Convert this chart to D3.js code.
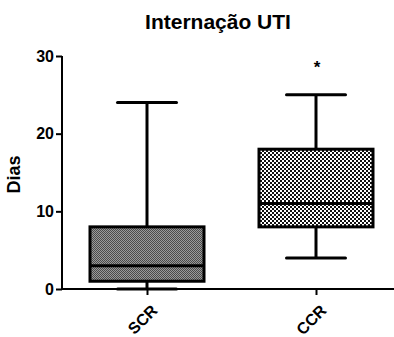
<!DOCTYPE html>
<html><head><meta charset="utf-8">
<script src="https://cdn.jsdelivr.net/npm/d3@7"></script>
<style>body{margin:0;background:#fff}svg{display:block}text{font-family:"Liberation Sans",Arial,sans-serif;font-weight:bold}</style>
</head><body><div id="c"></div>
<script>
const categories = ["SCR", "CCR"];
const whiskerLow = [0, 4];
const q1 = [1, 8];
const median = [3, 11];
const q3 = [8, 18];
const whiskerHigh = [24, 25];
const significance = ["", "*"];
const yTicks = [0, 10, 20, 30];
const title = "Internação UTI";
const yLabel = "Dias";

const W = 394, H = 337;
const svg = d3.select("#c").append("svg").attr("width", W).attr("height", H);
const defs = svg.append("defs");
const p1 = defs.append("pattern").attr("id","pat0").attr("patternUnits","userSpaceOnUse").attr("width",2).attr("height",2);
p1.append("rect").attr("width",2).attr("height",2).attr("fill","#9a9a9a");
p1.append("rect").attr("width",1).attr("height",1).attr("fill","#4a4a4a");
p1.append("rect").attr("x",1).attr("y",1).attr("width",1).attr("height",1).attr("fill","#4a4a4a");
const p2 = defs.append("pattern").attr("id","pat1").attr("patternUnits","userSpaceOnUse").attr("width",4).attr("height",4);
p2.append("rect").attr("width",4).attr("height",4).attr("fill","#ffffff");
p2.append("rect").attr("width",2).attr("height",2).attr("fill","#111");
p2.append("rect").attr("x",2).attr("y",2).attr("width",2).attr("height",2).attr("fill","#111");

const x0 = 62, x1 = 400, yTop = 56, yBot = 289;
const x = d3.scalePoint().domain(categories).range([147, 316]);
const y = d3.scaleLinear().domain([0, 30]).range([yBot, yTop]);

svg.append("text").attr("x", 218).attr("y", 29).attr("text-anchor","middle").attr("font-size", 21).text(title);

const yAxis = svg.append("g").attr("transform", `translate(${x0},0)`)
  .call(d3.axisLeft(y).tickValues(yTicks).tickSize(6).tickPadding(2).tickFormat(d3.format("d")));
yAxis.select(".domain").attr("stroke-width", 2).attr("d", `M0,${yTop}V${yBot}`);
yAxis.selectAll(".tick line").attr("stroke-width", 2);
yAxis.selectAll(".tick text").attr("font-size", 16).attr("font-weight","bold").attr("font-family",'"Liberation Sans",Arial,sans-serif').attr("fill","#000");

const xAxis = svg.append("g").attr("transform", `translate(0,${yBot})`)
  .call(d3.axisBottom(x).tickSize(6).tickFormat(""));
xAxis.select(".domain").attr("stroke-width", 2).attr("d", `M${x0},0H${x1}`);
xAxis.selectAll(".tick line").attr("stroke-width", 2);

svg.append("g").selectAll("text").data(categories).join("text")
  .attr("transform", d => `translate(${x(d)+3},${yBot+14}) rotate(-45)`)
  .attr("text-anchor","end").attr("dy","0.75em").attr("font-size", 16).text(d => d);

svg.append("text").attr("transform", `translate(20,${y(15)+2}) rotate(-90)`).attr("text-anchor","middle").attr("font-size", 18).text(yLabel);

const boxW = 114, capW = 59;
const g = svg.append("g");
categories.forEach((c, i) => {
  const cx = x(c);
  g.append("line").attr("x1", cx).attr("x2", cx).attr("y1", y(whiskerHigh[i])).attr("y2", y(q3[i])).attr("stroke","#000").attr("stroke-width",3);
  g.append("line").attr("x1", cx).attr("x2", cx).attr("y1", y(q1[i])).attr("y2", y(whiskerLow[i])).attr("stroke","#000").attr("stroke-width",3);
  g.append("line").attr("x1", cx-capW/2).attr("x2", cx+capW/2).attr("y1", y(whiskerHigh[i])).attr("y2", y(whiskerHigh[i])).attr("stroke","#000").attr("stroke-width",3).attr("stroke-linecap","round");
  g.append("line").attr("x1", cx-capW/2).attr("x2", cx+capW/2).attr("y1", y(whiskerLow[i])).attr("y2", y(whiskerLow[i])).attr("stroke","#000").attr("stroke-width",3).attr("stroke-linecap","round");
  g.append("rect").attr("x", cx-boxW/2).attr("width", boxW).attr("y", y(q3[i])).attr("height", y(q1[i])-y(q3[i]))
    .attr("fill", `url(#pat${i})`).attr("stroke","#000").attr("stroke-width",3);
  g.append("line").attr("x1", cx-boxW/2).attr("x2", cx+boxW/2).attr("y1", y(median[i])).attr("y2", y(median[i])).attr("stroke","#000").attr("stroke-width",3);
  if (significance[i]) g.append("text").attr("x", cx+1).attr("y", y(whiskerHigh[i]) - 22).attr("text-anchor","middle").attr("font-size",17).text(significance[i]);
});
</script></body></html>
